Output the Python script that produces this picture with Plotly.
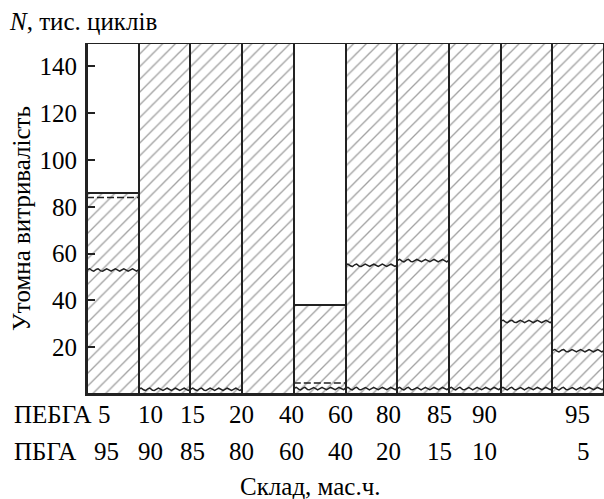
import numpy as np
import plotly.graph_objects as go

# ---- data ----
pebga = [5, 10, 15, 20, 40, 60, 80, 85, 90, 95]
pbga = [95, 90, 85, 80, 60, 40, 20, 15, 10, 5]
hatch_top = [86, 150, 150, 150, 38, 150, 150, 150, 150, 150]
dashed_level = [84, None, None, None, 4.7, None, None, None, None, None]
wavy_upper = [53, None, None, None, None, 55, 57, None, 31, 18.5]
wavy_lower = [None, 2, 2, None, 2.3, 2.3, 2.3, 2.3, 2.3, 2.3]
y_ticks = [20, 40, 60, 80, 100, 120, 140]
y_max = 150

# ---- layout constants (label placement, in category units relative to bar centre) ----
top_label_shift = [-0.17, -0.28, -0.45, -0.52, -0.55, -0.59, -0.66, -0.69, -0.82, -0.02]
bot_label_shift = [-0.13, -0.28, -0.45, -0.52, -0.55, -0.59, -0.66, -0.69, -0.82, 0.11]

FONT = "Liberation Serif"
n = len(pebga)
xs = list(range(n))

fig = go.Figure()
fig.add_trace(go.Bar(
    x=xs, y=hatch_top, width=1,
    marker=dict(color="white",
                line=dict(color="#222", width=2),
                pattern=dict(shape="/", fgcolor="#444", bgcolor="white",
                             size=9, solidity=0.15)),
    showlegend=False, hoverinfo="skip"))
fig.add_trace(go.Bar(
    x=xs, y=[y_max - h for h in hatch_top], base=hatch_top, width=1,
    marker=dict(color="white", line=dict(color="#222", width=2)),
    showlegend=False, hoverinfo="skip"))

# dashed levels
for i, lv in enumerate(dashed_level):
    if lv is None:
        continue
    fig.add_trace(go.Scatter(x=[i - 0.5, i + 0.5], y=[lv, lv], mode="lines",
                             line=dict(color="#222", width=1.5, dash="7px,3px"),
                             showlegend=False, hoverinfo="skip"))

# wavy levels
period = 0.165
amp = 0.55
for levels in (wavy_upper, wavy_lower):
    for i, lv in enumerate(levels):
        if lv is None:
            continue
        t = np.linspace(0, 1, 240)
        wx = i - 0.5 + t
        wy = lv + amp * np.sin(2 * np.pi * t / period)
        fig.add_trace(go.Scatter(x=wx, y=wy, mode="lines",
                                 line=dict(color="#222", width=1.5),
                                 showlegend=False, hoverinfo="skip"))

tf = dict(family=FONT, size=25, color="black")
annotations = []
for i in range(n):
    annotations.append(dict(x=i + top_label_shift[i], y=0, xref="x", yref="paper",
                            text=str(pebga[i]), showarrow=False, yanchor="middle",
                            yshift=-20, font=tf))
    annotations.append(dict(x=i + bot_label_shift[i], y=0, xref="x", yref="paper",
                            text=str(pbga[i]), showarrow=False, yanchor="middle",
                            yshift=-57, font=tf))
annotations += [
    dict(x=0, y=0, xref="paper", yref="paper", text="ПЕБГА", showarrow=False,
         xanchor="left", yanchor="middle", xshift=-75, yshift=-20, font=tf),
    dict(x=0, y=0, xref="paper", yref="paper", text="ПБГА", showarrow=False,
         xanchor="left", yanchor="middle", xshift=-75, yshift=-57, font=tf),
    dict(x=0.5, y=0, xref="paper", yref="paper", text="Склад, мас.ч.", showarrow=False,
         xanchor="center", yanchor="middle", xshift=-35, yshift=-92, font=tf),
    dict(x=0, y=1, xref="paper", yref="paper", text="<i>N</i>, тис. циклів", showarrow=False,
         xanchor="left", yanchor="middle", xshift=-80, yshift=22, font=tf),
]

fig.update_layout(
    width=604, height=499,
    margin=dict(l=87, r=0, t=43, b=105),
    paper_bgcolor="white", plot_bgcolor="white",
    barmode="overlay", bargap=0,
    font=tf,
    annotations=annotations,
    xaxis=dict(range=[-0.5, n - 0.5], showticklabels=False, ticks="",
               showgrid=False, zeroline=False, showline=True,
               linecolor="#222", linewidth=2),
    yaxis=dict(range=[0, y_max], tickvals=y_ticks, ticks="inside", ticklen=8,
               tickwidth=1.5, tickcolor="#222", showgrid=False, zeroline=False,
               showline=True, linecolor="#222", linewidth=2,
               tickfont=tf, ticklabelstandoff=3,
               title=dict(text="Утомна витривалість", standoff=2, font=tf)),
)

fig.write_html("out.html")
